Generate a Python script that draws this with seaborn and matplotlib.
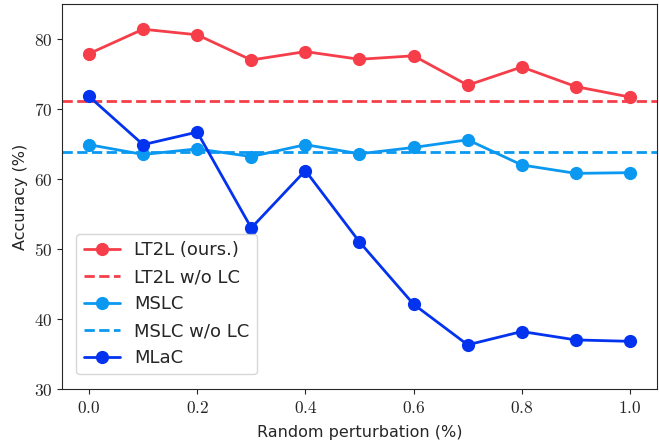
import numpy as np
import pandas as pd
import matplotlib
matplotlib.use("Agg")
import matplotlib.pyplot as plt
import seaborn as sns

perturbation = [0.0, 0.1, 0.2, 0.3, 0.4, 0.5, 0.6, 0.7, 0.8, 0.9, 1.0]
lt2l = [77.9, 81.4, 80.6, 77.0, 78.2, 77.1, 77.6, 73.4, 76.0, 73.2, 71.7]
mslc = [64.9, 63.5, 64.3, 63.2, 64.9, 63.6, 64.5, 65.6, 62.0, 60.8, 60.9]
mlac = [71.8, 64.9, 66.7, 53.0, 61.2, 51.0, 42.1, 36.3, 38.2, 37.0, 36.8]
lt2l_wo_lc = 71.2
mslc_wo_lc = 63.9

red = "#f63e4a"
light_blue = "#0a98f0"
dark_blue = "#0433ef"

sns.set_style("ticks")
plt.rcParams["font.family"] = ["DejaVu Sans"]
plt.rcParams["mathtext.fontset"] = "cm"

df = pd.DataFrame({"x": perturbation, "LT2L": lt2l, "MSLC": mslc, "MLaC": mlac})

fig, ax = plt.subplots(figsize=(6.59, 4.46), dpi=100)

ms = 9.5
lw = 2
sns.lineplot(data=df, x="x", y="LT2L", ax=ax, color=red, marker="o",
             markersize=ms, linewidth=lw, markeredgewidth=0, label="LT2L (ours.)")
ax.axhline(lt2l_wo_lc, color=red, linestyle="--", linewidth=lw, label="LT2L w/o LC")
sns.lineplot(data=df, x="x", y="MSLC", ax=ax, color=light_blue, marker="o",
             markersize=ms, linewidth=lw, markeredgewidth=0, label="MSLC")
ax.axhline(mslc_wo_lc, color=light_blue, linestyle="--", linewidth=lw, label="MSLC w/o LC")
sns.lineplot(data=df, x="x", y="MLaC", ax=ax, color=dark_blue, marker="o",
             markersize=ms, linewidth=lw, markeredgewidth=0, label="MLaC")

ax.set_xlim(-0.05, 1.05)
ax.set_ylim(30, 85)
ax.set_xticks([0.0, 0.2, 0.4, 0.6, 0.8, 1.0])
ax.set_xticklabels([f"${v:.1f}$" for v in [0.0, 0.2, 0.4, 0.6, 0.8, 1.0]])
ax.set_yticks([30, 40, 50, 60, 70, 80])
ax.set_yticklabels([f"${v}$" for v in [30, 40, 50, 60, 70, 80]])
ax.tick_params(labelsize=12.5)
for s in ax.spines.values():
    s.set_visible(True)
ax.set_xlabel("Random perturbation (%)", fontsize=11.5, labelpad=6)
ax.set_ylabel("Accuracy (%)", fontsize=11.5)

ax.legend(loc="lower left", fontsize=13, frameon=True, handlelength=2,
          borderaxespad=0.8, labelspacing=0.5)

fig.subplots_adjust(left=0.094, right=0.997, top=0.991, bottom=0.128)
fig.savefig("out.png", dpi=100)
